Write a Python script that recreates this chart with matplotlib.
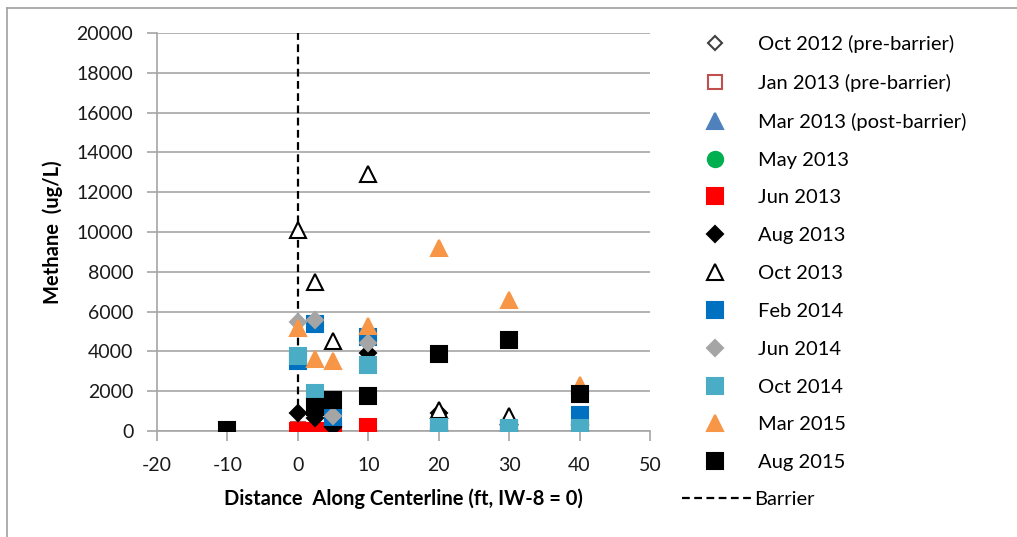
import numpy as np
import matplotlib
matplotlib.use('Agg')
import matplotlib.pyplot as plt
from matplotlib.lines import Line2D

plt.rcParams['font.family'] = ['Lato', 'DejaVu Sans']
plt.rcParams['axes.unicode_minus'] = False

nan = np.nan
dist = [-10, 0, 2.5, 5, 10, 20, 30, 40]

oct12 = [0, 200, 100, 50, 100, 0, 0, 0]
jan13 = [0, 100, 50, 0, 50, 0, 0, 0]
mar13 = [nan, 0, 0, 0, 0, 0, 0, 0]
may13 = [nan, 0, 0, 0, 0, 0, 0, 0]
jun13 = [nan, 0, 0, 0, 200, 0, 0, 0]
aug13 = [nan, 900, 650, 200, 3900, 900, 300, 300]
oct13 = [nan, 10100, 7500, 4500, 12900, 1050, 750, nan]
feb14 = [nan, 3500, 5400, 700, 4700, 100, 100, 800]
jun14 = [nan, 5500, 5600, 750, 4400, 100, 0, 0]
oct14 = [nan, 3750, 1900, nan, 3300, 200, 150, 150]
mar15 = [0, 5200, 3600, 3500, 5300, 9200, 6600, 2300]
aug15 = [50, nan, 1200, 1550, 1750, 3870, 4570, 1860]

labels = ['Oct 2012 (pre-barrier)', 'Jan 2013 (pre-barrier)', 'Mar 2013 (post-barrier)',
          'May 2013', 'Jun 2013', 'Aug 2013', 'Oct 2013', 'Feb 2014', 'Jun 2014',
          'Oct 2014', 'Mar 2015', 'Aug 2015']
series = [oct12, jan13, mar13, may13, jun13, aug13, oct13, feb14, jun14, oct14, mar15, aug15]
# marker, face, edge, size
styles = [
    ('D', 'white', '#404040', 7),
    ('s', 'white', '#c0504d', 10),
    ('^', '#4f81bd', '#4f81bd', 11),
    ('o', '#00b050', '#00b050', 11),
    ('s', '#ff0000', '#ff0000', 11),
    ('D', 'black', 'black', 8),
    ('^', 'white', 'black', 11),
    ('s', '#0070c0', '#0070c0', 11),
    ('D', '#a5a5a5', '#a5a5a5', 8),
    ('s', '#4bacc6', '#4bacc6', 11),
    ('^', '#f79646', '#f79646', 11),
    ('s', 'black', 'black', 11),
]

fig = plt.figure(figsize=(10.17, 5.37), dpi=100)
ax = fig.add_axes([157/1017, 1-431/537, (650-157)/1017, (431-33)/537])

ax.plot([0, 0], [0, 20000], color='black', lw=1.6, dashes=(3.5, 2), zorder=1.5)

handles = []
for y, lab, st in zip(series, labels, styles):
    m, fc, ec, ms = st
    h, = ax.plot(dist, y, linestyle='none', marker=m, markerfacecolor=fc,
                 markeredgecolor=ec, markersize=ms, markeredgewidth=1.5,
                 label=lab, zorder=3)
    handles.append(h)

ax.set_xlim(-20, 50)
ax.set_ylim(0, 20000)
ax.set_xticks(np.arange(-20, 51, 10))
ax.set_yticks(np.arange(0, 20001, 2000))
ax.grid(axis='y', color='#a6a6a6', lw=1.2, zorder=0)
ax.set_axisbelow(True)
for s in ['top', 'right']:
    ax.spines[s].set_visible(False)
for s in ['left', 'bottom']:
    ax.spines[s].set_color('#a6a6a6')
    ax.spines[s].set_linewidth(1.2)
ax.tick_params(axis='both', direction='out', length=7, width=1.2, color='#a6a6a6',
               labelsize=14, labelcolor='#1a1a1a')
ax.tick_params(axis='x', pad=12)
ax.tick_params(axis='y', pad=10)

ax.set_xlabel('Distance  Along Centerline (ft, IW-8 = 0)', fontsize=14.5, fontweight='bold', labelpad=10)
ax.set_ylabel('Methane  (ug/L)', fontsize=14.5, fontweight='bold', labelpad=10)

leg = fig.legend(handles=handles, loc='upper left', bbox_to_anchor=(692/1017, 1-27/537),
                 frameon=False, fontsize=14.5, labelspacing=1.03, handlelength=1.5,
                 handletextpad=1.4, borderaxespad=0)
barrier = Line2D([0], [0], color='black', lw=1.6, dashes=(3.5, 2))
fig.legend(handles=[barrier], labels=['Barrier'], loc='upper left',
           bbox_to_anchor=(674/1017, 1-483/537), frameon=False, fontsize=14.5,
           handlelength=3.4, handletextpad=0.2, borderaxespad=0)

fig.add_artist(Line2D([7/1017, 1], [1-8/537, 1-8/537], transform=fig.transFigure,
                      color='#a0a0a0', lw=1.2))
fig.add_artist(Line2D([7/1017, 7/1017], [0, 1-8/537], transform=fig.transFigure,
                      color='#a0a0a0', lw=1.2))

fig.savefig('out.png', dpi=100)
